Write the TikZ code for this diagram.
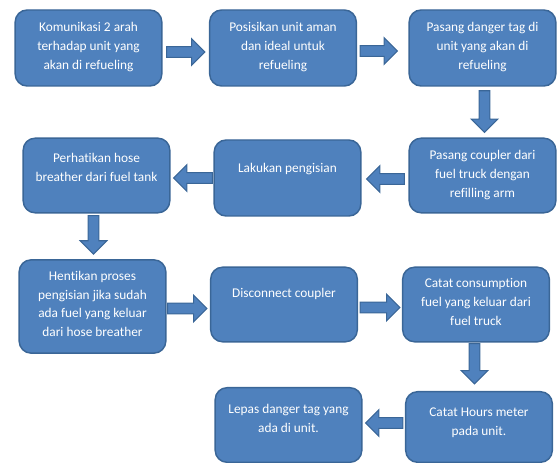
\documentclass[tikz,border=0pt]{standalone}
\usepackage{fontspec}
\setmainfont[Ligatures=NoCommon]{Carlito}
\usepackage{tikz}
\usetikzlibrary{calc}
\definecolor{boxblue}{HTML}{4F81BD}
\definecolor{edgeblue}{HTML}{3A6697}
\newcommand{\ShaftW}{4pt}
\newcommand{\HeadW}{10pt}
\newcommand{\HeadL}{10pt}
% block arrow between two points
\newcommand{\BlkArr}[2]{\filldraw[blkarr] let \p1=(#1), \p2=(#2), \n1={atan2(\y2-\y1,\x2-\x1)}, \n2={veclen(\x2-\x1,\y2-\y1)} in
 ($(\p1)+(\n1+90:\ShaftW)$)--($(\p1)+(\n1:{\n2*1pt-\HeadL})+(\n1+90:\ShaftW)$)--($(\p1)+(\n1:{\n2*1pt-\HeadL})+(\n1+90:\HeadW)$)--(\p2)--
 ($(\p1)+(\n1:{\n2*1pt-\HeadL})+(\n1-90:\HeadW)$)--($(\p1)+(\n1:{\n2*1pt-\HeadL})+(\n1-90:\ShaftW)$)--($(\p1)+(\n1-90:\ShaftW)$)--cycle;}
\tikzset{stepbox/.style={draw=edgeblue,fill=boxblue,line width=1.1pt,rounded corners=9pt,inner sep=0pt,minimum width=110pt}}
\tikzset{steptext/.style={anchor=north,text=white,align=center,font=\fontsize{10}{14}\selectfont,inner sep=0pt}}
\tikzset{blkarr/.style={draw=edgeblue,fill=boxblue,line width=.8pt,line join=miter}}

\begin{document}
\begin{tikzpicture}[x=.75pt,y=-.75pt]
\useasboundingbox(0,0)rectangle(557,463);
% boxes
\node[stepbox,minimum height=57pt](k1)at(88.5,48){};\node[steptext](t1)at($(k1.north)+(0,13)$){Komunikasi 2 arah\\terhadap unit yang\\akan di refueling};
\node[stepbox,minimum height=57pt](k2)at(283,48){};\node[steptext](t2)at($(k2.north)+(0,13)$){Posisikan unit aman\\dan ideal untuk\\refueling};
\node[stepbox,minimum height=57pt](k3)at(482.5,48){};\node[steptext](t3)at($(k3.north)+(0,13)$){Pasang danger tag di\\unit yang akan di\\refueling};
\node[stepbox,minimum height=56pt](k4)at(482.5,175.5){};\node[steptext](t4)at($(k4.north)+(0,13)$){Pasang coupler dari\\fuel truck dengan\\refilling arm};
\node[stepbox,minimum height=57pt](k5)at(287.5,178){};\node[steptext](t5)at($(k5.north)+(0,24)$){Lakukan pengisian};
\node[stepbox,minimum height=56pt](k6)at(96.5,175.5){};\node[steptext](t6)at($(k6.north)+(0,16)$){Perhatikan hose\\breather dari fuel tank};
\node[stepbox,minimum height=70pt](k7)at(92.5,306.5){};\node[steptext](t7)at($(k7.north)+(0,12)$){Hentikan proses\\pengisian jika sudah\\ada fuel yang keluar\\dari hose breather};
\node[stepbox,minimum height=56pt](k8)at(284,304.5){};\node[steptext](t8)at($(k8.north)+(0,22)$){Disconnect coupler};
\node[stepbox,minimum height=56pt](k9)at(476,304.5){};\node[steptext](t9)at($(k9.north)+(0,12)$){Catat consumption\\fuel yang keluar dari\\fuel truck};
\node[stepbox,minimum height=53pt](k10)at(479,427){};\node[steptext](t10)at($(k10.north)+(0,17)$){Catat Hours meter\\pada unit.};
\node[stepbox,minimum height=56pt](k11)at(288.5,425){};\node[steptext](t11)at($(k11.north)+(0,17)$){Lepas danger tag yang\\ada di unit.};
% arrows
\BlkArr{$(k1.east)+(4,4)$}{$(k1.east-|k2.west)+(-4,4)$}
\BlkArr{$(k2.east)+(3,3)$}{$(k2.east-|k3.west)+(-11,3)$}
\BlkArr{$(k3.south)+(2,4)$}{$(k3.south|-k4.north)+(2,-5)$}
\BlkArr{$(k4.west)+(-4,3.5)$}{$(k4.west-|k5.east)+(5,3.5)$}
\BlkArr{$(k5.west)+(-1,0)$}{$(k5.west-|k6.east)+(3,0)$}
\BlkArr{$(k6.south)+(-3,2)$}{$(k6.south|-k7.north)+(-3,-5)$}
\BlkArr{$(k7.east)+(1,2)$}{$(k7.east-|k8.west)+(-3,2)$}
\BlkArr{$(k8.east)+(2,3)$}{$(k8.east-|k9.west)+(-2,3)$}
\BlkArr{$(k9.south)+(-1.5,1)$}{$(k9.south|-k10.north)+(-1.5,-7)$}
\BlkArr{$(k10.west)+(-2,-4)$}{$(k10.west-|k11.east)+(3,-4)$}
\end{tikzpicture}
\end{document}
